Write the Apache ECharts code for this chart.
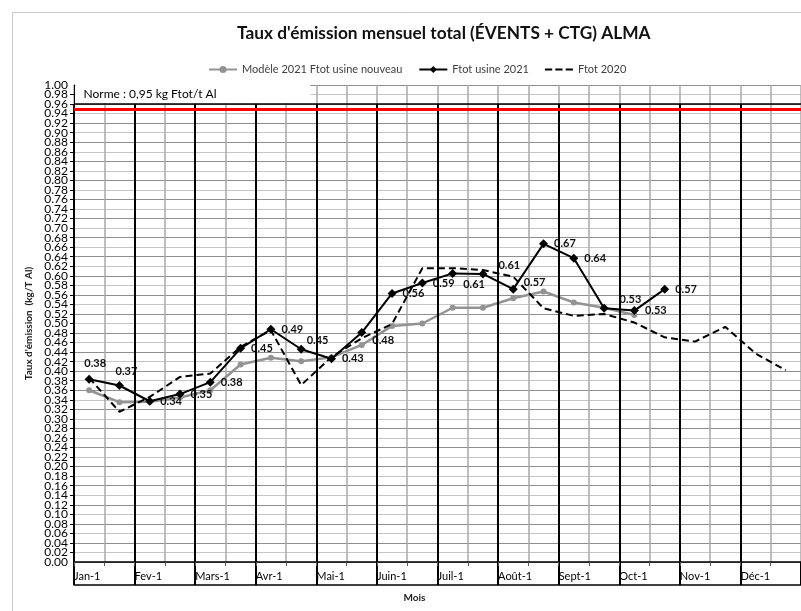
<!DOCTYPE html>
<html><head><meta charset="utf-8">
<script src="https://cdn.jsdelivr.net/npm/echarts@6/dist/echarts.min.js"></script>
<style>html,body{margin:0;padding:0;background:#fff}#c{width:801px;height:611px}</style>
</head><body><div id="c"></div>
<script>
// ---- data ----
const months = ['Jan-1','Fev-1','Mars-1','Avr-1','Mai-1','Juin-1','Juil-1','Août-1','Sept-1','Oct-1','Nov-1','Déc-1'];
const modele2021 = [0.360,0.335,0.336,0.345,0.360,0.414,0.428,0.421,0.429,0.455,0.495,0.500,0.533,0.533,0.553,0.567,0.544,0.533,0.518];
const ftot2021 = [0.383,0.370,0.337,0.352,0.377,0.448,0.488,0.446,0.426,0.481,0.563,0.585,0.605,0.604,0.572,0.667,0.637,0.532,0.527,0.572];
const ftot2021Labels = ['0.38','0.37','0.34','0.35','0.38','0.45','0.49','0.45','0.43','0.48','0.56','0.59','0.61','0.61','0.57','0.67','0.64','0.53','0.53','0.57'];
const ftot2020 = [0.386,0.315,0.346,0.388,0.395,0.451,0.486,0.371,0.430,0.469,0.499,0.616,0.616,0.612,0.598,0.532,0.516,0.520,0.502,0.471,0.462,0.493,0.437,0.402];
const norme = 0.95;
const normeText = 'Norme : 0,95 kg Ftot/t Al';
const blackTop = 0.96;
const seriesNames = ['Modèle 2021 Ftot usine nouveau','Ftot usine 2021','Ftot 2020'];

// ---- build ----
const halfCount = months.length * 2;
const toPts = arr => arr.map((v, i) => [i + 0.5, v]);
const labelTweaks = {0:{position:'top',offset:[6,0]},1:{position:'top',offset:[7,2]},7:{offset:[-5,-9]},9:{offset:[0,8]},12:{offset:[0,11]},13:{offset:[5,-8]},14:{offset:[0,-7]},17:{offset:[5,-9]}};
const blackData = ftot2021.map((v, i) => {
  const t = labelTweaks[i] || {};
  return {value:[i + 0.5, v], label:Object.assign({position:'right', formatter: ftot2021Labels[i]}, t)};
});
const monthLines = months.map((m, k) => [{coord:[2*k, 0]}, {coord:[2*k, blackTop]}]);
const font = 'Lato, "Open Sans", sans-serif';
const dashIcon = 'path://M0,0h7v2h-7z M10,0h7v2h-7z M20,0h7v2h-7z';
const yLabelStyle = {formatter:v => v.toFixed(2), fontSize:12, color:'#000', margin:6, lineHeight:9};

const chart = echarts.init(document.getElementById('c'), null, {renderer:'canvas'});
chart.setOption({
  backgroundColor:'#fff',
  animation:false,
  textStyle:{fontFamily:font},
  title:{text:'Taux d\'émission mensuel total (ÉVENTS + CTG) ALMA', left:232, top:20,
    textStyle:{fontSize:17.3, fontWeight:'bold', color:'#111', fontFamily:font}},
  legend:{top:59, left:203, itemWidth:28, itemHeight:9, itemGap:16,
    data:[{name:seriesNames[0]},{name:seriesNames[1]},{name:seriesNames[2], icon:dashIcon}],
    textStyle:{fontSize:11, color:'#404040', fontFamily:font}},
  graphic:[{type:'rect', left:10, top:10, z:-1, silent:true, shape:{width:820, height:620}, style:{fill:'none', stroke:'#c8c8c8', lineWidth:1}}],
  grid:[
    {left:74, right:0, top:85, bottom:49},
    {left:74, right:0, top:562, height:23}
  ],
  xAxis:[
    {type:'value', gridIndex:0, min:0, max:halfCount, interval:1,
      name:'Mois', nameLocation:'middle', nameGap:31,
      nameTextStyle:{fontSize:10, fontWeight:'bold', color:'#222', padding:[0,46,0,0]},
      axisLine:{lineStyle:{color:'#000', width:1.5}},
      axisTick:{show:true, length:4, lineStyle:{color:'#555'}},
      axisLabel:{formatter:v => (v % 2 === 0 && v < halfCount) ? months[v/2] : '', align:'left', margin:9,
        fontSize:11, color:'#000', showMaxLabel:false},
      splitLine:{show:true, lineStyle:{color:'#a8a8a8', width:1.5}}},
    {type:'value', gridIndex:1, min:0, max:halfCount, interval:2, position:'bottom',
      axisLine:{lineStyle:{color:'#000', width:1.5}}, axisTick:{show:false}, axisLabel:{show:false},
      splitLine:{show:true, lineStyle:{color:'#000', width:2}}}
  ],
  yAxis:[
    {type:'value', gridIndex:0, min:0, max:1, interval:0.02,
      name:'Taux d\'émission  (kg/T Al)', nameLocation:'middle', nameGap:38,
      nameTextStyle:{fontSize:10, fontWeight:'bold', color:'#222'},
      axisLine:{show:true, lineStyle:{color:'#000', width:1}},
      axisTick:{show:true, length:4, lineStyle:{color:'#000'}},
      axisLabel:Object.assign({showMinLabel:false, showMaxLabel:false}, yLabelStyle),
      splitLine:{show:true, lineStyle:{color:['#8e8e8e','#c6c6c6'], width:1}}},
    {type:'value', gridIndex:1, min:0, max:1, show:false},
    {type:'value', gridIndex:0, min:0, max:1, interval:1, position:'left', offset:0,
      axisLine:{show:false}, axisTick:{show:false}, splitLine:{show:false},
      axisLabel:Object.assign({showMinLabel:true, showMaxLabel:true}, yLabelStyle)}
  ],
  series:[
    {type:'line', name:'decor', data:[], clip:false, silent:true, z:1,
      markLine:{silent:true, symbol:['none','none'], label:{show:false}, animation:false,
        lineStyle:{color:'#000', width:2, type:'solid'},
        data: monthLines.concat([
          [{coord:[0, blackTop], lineStyle:{width:1.5}}, {coord:[halfCount, blackTop]}],
          [{coord:[0, norme], lineStyle:{color:'#f00', width:3}}, {coord:[halfCount, norme]}]
        ])},
      markArea:{silent:true, itemStyle:{color:'#fff'},
        label:{show:true, position:'insideLeft', distance:8, color:'#000', fontSize:12, fontFamily:font},
        data:[[{name:normeText, coord:[0.05, blackTop + 0.0015]}, {coord:[7.8, 1]}]]}
    },
    {type:'line', name:seriesNames[0], data:toPts(modele2021), z:3,
      symbol:'circle', symbolSize:6, color:'#939393',
      lineStyle:{color:'#939393', width:2.5}, itemStyle:{color:'#939393'}},
    {type:'line', name:seriesNames[1], data:blackData, z:4,
      symbol:'diamond', symbolSize:9, color:'#000',
      lineStyle:{color:'#000', width:2}, itemStyle:{color:'#000'},
      label:{show:true, distance:6, fontSize:11, fontWeight:'bold', color:'#111', fontFamily:font}},
    {type:'line', name:seriesNames[2], data:toPts(ftot2020), z:5,
      showSymbol:false, symbol:'none', color:'#000', itemStyle:{color:'#000'},
      lineStyle:{color:'#000', width:2, type:[7,4]}}
  ]
});
</script></body></html>
